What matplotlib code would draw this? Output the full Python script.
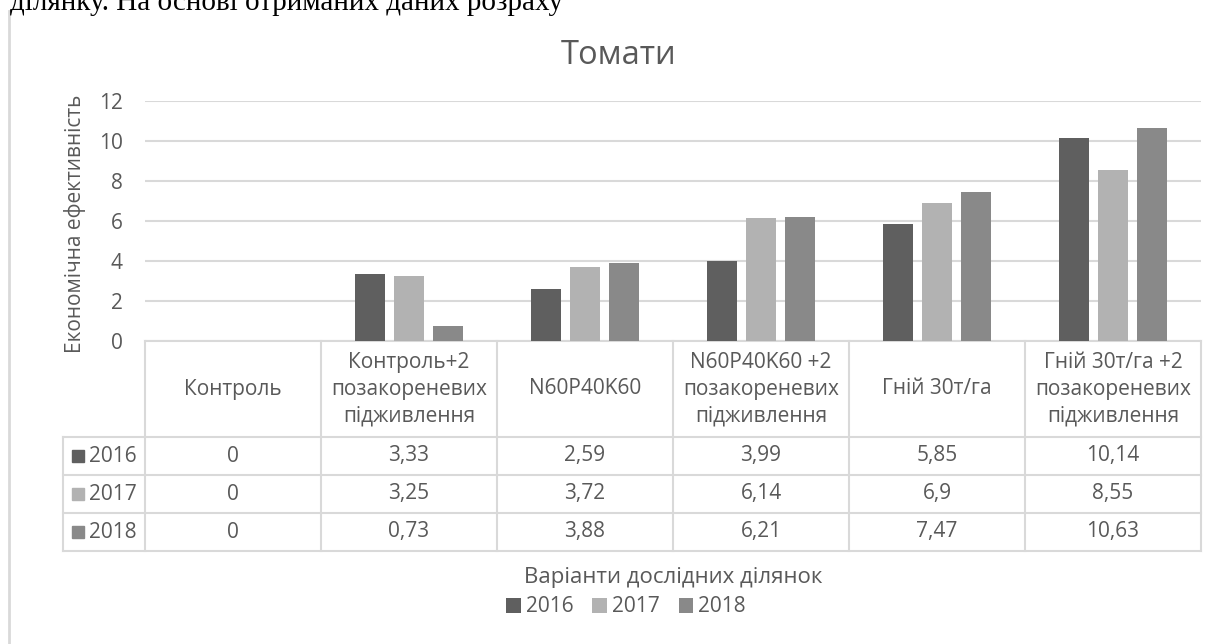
import matplotlib.pyplot as plt
import numpy as np

categories = ['Контроль', 'Контроль+2\nпозакореневих\nпідживлення', 'N60P40K60',
              'N60P40K60 +2\nпозакореневих\nпідживлення', 'Гній 30т/га',
              'Гній 30т/га +2\nпозакореневих\nпідживлення']
years = ['2016', '2017', '2018']
v2016 = [0, 3.33, 2.59, 3.99, 5.85, 10.14]
v2017 = [0, 3.25, 3.72, 6.14, 6.9, 8.55]
v2018 = [0, 0.73, 3.88, 6.21, 7.47, 10.63]
colors = ['#5f5f5f', '#b2b2b2', '#898989']

plt.rcParams['font.family'] = ['Open Sans', 'DejaVu Sans']
txt = '#595959'
grid = '#d9d9d9'
fs = 15

W, H = 1225, 644
fig = plt.figure(figsize=(W / 100, H / 100), dpi=100)

# axes placed in pixel terms
left, right, top, bottom = 145, 1201, 101, 341
ax = fig.add_axes([left / W, 1 - bottom / H, (right - left) / W, (bottom - top) / H])

series = [v2016, v2017, v2018]
x = np.arange(len(categories))
bw = 0.17
step = 0.222
for i, vals in enumerate(series):
    ax.bar(x + (i - 1) * step, vals, bw, color=colors[i], zorder=3, label=years[i])

ax.set_xlim(-0.5, len(categories) - 0.5)
ax.set_ylim(0, 12)
ax.set_yticks(range(0, 13, 2))
ax.yaxis.grid(True, color=grid, linewidth=1.5, zorder=0)
ax.tick_params(axis='y', length=0, labelsize=fs, labelcolor=txt, pad=16)
ax.set_xticks([])
for s in ax.spines.values():
    s.set_visible(False)

# data table below the axes
ph = bottom - top
pw = right - left
def ay(py):
    return -(py - bottom) / ph

row_y = [bottom, 437, 475, 513, 551]
key_left = (63 - left) / pw
tr = ax.get_xaxis_transform()
lk = dict(color=grid, linewidth=1.5, clip_on=False)
ax.plot([-0.5, 5.5], [0, 0], transform=tr, **lk)
for py in row_y[1:]:
    ax.plot([key_left, 1], [ay(py), ay(py)], transform=ax.transAxes, **lk)
for b in np.arange(-0.5, 6, 1):
    ax.plot([b, b], [0, ay(551)], transform=tr, **lk)
ax.plot([key_left, key_left], [ay(437), ay(551)], transform=ax.transAxes, **lk)

for j, c in enumerate(categories):
    ax.text(j, ay(389), c, transform=tr, ha='center', va='center',
            fontsize=fs, color=txt, linespacing=1.36)
for i, vals in enumerate(series):
    yc = ay((row_y[i + 1] + row_y[i + 2]) / 2)
    for j, v in enumerate(vals):
        s = ('%g' % v).replace('.', ',')
        ax.text(j, yc, s, transform=tr, ha='center', va='center', fontsize=fs, color=txt)
    ax.add_patch(plt.Rectangle((72 / pw - left / pw, yc - 6 / ph), 12 / pw, 12 / ph,
                               transform=ax.transAxes, color=colors[i], clip_on=False))
    ax.text((89 - left) / pw, yc, years[i], transform=ax.transAxes,
            ha='left', va='center', fontsize=fs, color=txt)

# titles and labels
fig.text(619 / W, 1 - 55 / H, 'Томати', ha='center', va='center', fontsize=23.5, color=txt)
fig.text(75 / W, 1 - 224 / H, 'Економічна ефективність', rotation=90, ha='center',
         va='center', fontsize=15, color=txt)
fig.text(673 / W, 1 - 577 / H, 'Варіанти дослідних ділянок', ha='center', va='center',
         fontsize=16, color=txt)
fig.legend(loc='center', bbox_to_anchor=(626 / W, 1 - 607 / H), ncol=3, frameon=False,
           fontsize=fs, labelcolor=txt, handlelength=0.7, handleheight=0.7,
           handletextpad=0.25, columnspacing=0.9)

# page fragment and chart frame
fig.text(10 / W, 1 - 9.5 / H, 'ділянку. На основі отриманих даних розраху',
         ha='left', va='baseline', fontsize=21, family='Liberation Serif', color='black')
fig.add_artist(plt.Line2D([8.5 / W, 8.5 / W], [0, 1 - 11 / H], color=grid, linewidth=2))

fig.savefig('out.png', dpi=100)
